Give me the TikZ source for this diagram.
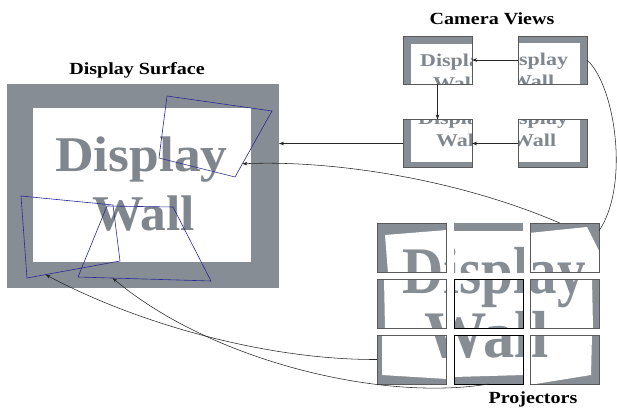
\documentclass[tikz,border=0pt]{standalone}
\usepackage{graphicx}
\usepackage{fontspec}
\setmainfont{Liberation Serif}
\usetikzlibrary{arrows.meta,calc}
\definecolor{wallgray}{RGB}{135,141,148}
\definecolor{txtgray}{RGB}{128,134,141}
\definecolor{quadblue}{RGB}{40,40,150}

\newcommand{\projcontent}[2]{%
  \begin{scope}
    \clip (#1.south west) rectangle (#1.north east);
    \fill[wallgray] (#1.south west) rectangle (#1.north east);
    \fill[white] #2;
    \node[projtxt] (#1d) at (402,293) {\scalebox{1.14}[1.33]{Display}};
    \node[projtxt] (#1w) at (424,357) {\scalebox{1.25}[1.33]{Wall}};
  \end{scope}}

\newcommand{\camcontent}[4]{%
  \begin{scope}
    \clip (#1.south west) rectangle (#1.north east);
    \fill[wallgray] (#1.south west) rectangle (#1.north east);
    \fill[white] #2;
    \node[camtxt] (#1d) at #3 {\scalebox{1.22}[1]{Display}};
    \node[camtxt] (#1w) at #4 {\scalebox{1.22}[1]{Wall}};
  \end{scope}}

\begin{document}
\begin{tikzpicture}[x=1pt,y=-1pt,
  conn/.style={line width=0.55pt, draw=black!85},
  arr/.style={conn,-{Stealth[length=5pt,width=3.6pt]}},
  quad/.style={draw=quadblue,line width=0.6pt},
  cambox/.style={rectangle,minimum width=69pt,minimum height=48pt,inner sep=0pt,outer sep=0pt},
  projbox/.style={rectangle,minimum width=69pt,minimum height=49pt,inner sep=0pt,outer sep=0pt},
  boxline/.style={draw=black!65,line width=0.7pt},
  title/.style={font=\bfseries\fontsize{17}{17}\selectfont,inner sep=0pt,anchor=base},
  bigtxt/.style={text=txtgray,font=\bfseries\fontsize{50}{50}\selectfont,inner sep=0pt,anchor=base west},
  camtxt/.style={text=txtgray,font=\bfseries\fontsize{18}{18}\selectfont,inner sep=0pt,anchor=base west},
  projtxt/.style={text=wallgray,font=\bfseries\fontsize{50}{50}\selectfont,inner sep=0pt,anchor=base west},
]
\useasboundingbox (0,0) rectangle (617,409);

% ---------- Display surface ----------
\node[fill=wallgray,minimum width=272pt,minimum height=204pt,inner sep=0pt,outer sep=0pt] (disp) at (143,186) {};
\fill[white] (33,108) rectangle (251,262);
\node[bigtxt] (dw1) at (55,171) {\scalebox{1.07}[1]{Display}};
\node[bigtxt] (dw2) at (92,230) {\scalebox{1.03}[1]{Wall}};
\node[title] (tdisp) at (137,75) {\scalebox{1.18}[1]{Display Surface}};

\coordinate (q1a) at (167,96);  \coordinate (q1b) at (272,111);
\coordinate (q1c) at (235,177); \coordinate (q1d) at (159,158);
\coordinate (q2a) at (21,196);  \coordinate (q2b) at (113,205);
\coordinate (q2c) at (120,261); \coordinate (q2d) at (27,278);
\coordinate (q3a) at (107,206); \coordinate (q3b) at (173,207);
\coordinate (q3c) at (211,281); \coordinate (q3d) at (78,277);
\draw[quad] (q1a) -- (q1b) -- (q1c) -- (q1d) -- cycle;
\draw[quad] (q2a) -- (q2b) -- (q2c) -- (q2d) -- cycle;
\draw[quad] (q3a) -- (q3b) -- (q3c) -- (q3d) -- cycle;
\coordinate (t1) at ($(q1b)!0.8!(q1c)$);
\coordinate (t2) at ($(q2c)!0.8!(q2d)$);
\coordinate (t3) at ($(q3d)!0.26!(q3c)$);

% ---------- Camera views ----------
\node[title] (tcam) at (492,25) {\scalebox{1.18}[1]{Camera Views}};
\node[cambox] (ctl) at (437.5,60) {};
\node[cambox] (ctr) at (552.5,60) {};
\node[cambox] (cbl) at (437.5,143.5) {};
\node[cambox] (cbr) at (552.5,143.5) {};
\camcontent{ctl}{(411,44) rectangle (480,92)}{(420,67)}{(433,89)}
\camcontent{ctr}{(510,43) rectangle (580,92)}{(497,66)}{(510,88)}
\camcontent{cbl}{(411,110) rectangle (480,162)}{(418,124)}{(436,146)}
\camcontent{cbr}{(510,110) rectangle (580,162)}{(497,124)}{(512,146)}
\foreach \b in {ctl,ctr,cbl,cbr}
  \draw[boxline] (\b.south west) rectangle (\b.north east);

% ---------- Projectors ----------
\node[title] (tproj) at (533,403) {\scalebox{1.18}[1]{Projectors}};
\node[projbox] (p11) at (411.5,247.5) {};
\node[projbox] (p12) at (488.5,247.5) {};
\node[projbox] (p13) at (564.5,247.5) {};
\node[projbox] (p21) at (411.5,303.5) {};
\node[projbox] (p22) at (488.5,303.5) {};
\node[projbox] (p23) at (564.5,303.5) {};
\node[projbox] (p31) at (411.5,359.5) {};
\node[projbox] (p32) at (488.5,359.5) {};
\node[projbox] (p33) at (564.5,359.5) {};
\projcontent{p11}{(385,235) -- (447,230) -- (447,273) -- (388,273) -- cycle}
\projcontent{p12}{(453,231) rectangle (524,273)}
\projcontent{p13}{(529,233) -- (587,227) -- (600,253) -- (600,273) -- (529,273) -- cycle}
\projcontent{p21}{(384,278) -- (447,278) -- (447,329) -- (385,329) -- cycle}
\projcontent{p22}{(453,278) rectangle (524,329)}
\projcontent{p23}{(529,278) -- (592,278) -- (593,329) -- (529,329) -- cycle}
\projcontent{p31}{(382,334) -- (447,334) -- (447,379) -- (382,375) -- cycle}
\projcontent{p32}{(453,334) -- (524,334) -- (524,375) -- (453,377) -- cycle}
\projcontent{p33}{(529,334) -- (592,334) -- (591,375) -- (529,385) -- cycle}
\foreach \b in {p11,p13,p21,p23,p31,p33}
  \draw[boxline] (\b.south west) rectangle (\b.north east);
\foreach \b in {p22,p32}
  \draw[draw=black,line width=0.7pt] (\b.south west) rectangle (\b.north east);

% ---------- Connectors ----------
\draw[arr] (ctr.west) -- (ctl.east);
\draw[arr] (ctl.south) -- (cbl.north);
\draw[arr] (cbr.west) -- (cbl.east);
\draw[arr] (cbl.west) -- (cbl.west -| disp.east);
\draw[conn] (ctr.east) .. controls (615,85) and (630,185) .. ($(p13.north east)!0.16!(p13.south east)$);
\draw[arr] ($(p13.north west)!0.43!(p13.north east)$) .. controls (455,178) and (330,160) .. (t1);
\draw[arr] (p31.west) .. controls (260,360) and (130,320) .. (t2);
\draw[arr] (p32.south) .. controls (380,402) and (210,360) .. (t3);
\end{tikzpicture}
\end{document}
